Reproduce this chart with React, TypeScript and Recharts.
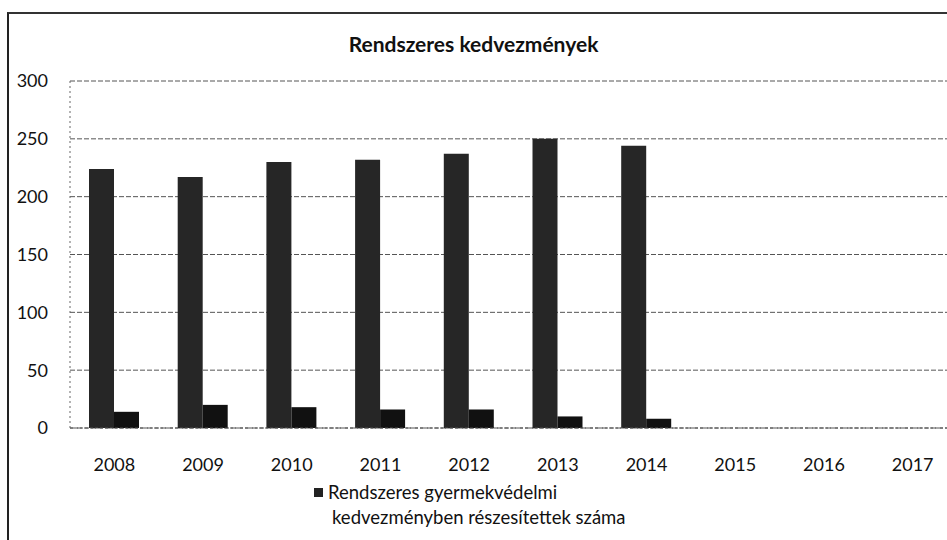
import { Bar, BarChart, CartesianGrid, XAxis, YAxis } from 'recharts';

const years = ['2008', '2009', '2010', '2011', '2012', '2013', '2014', '2015', '2016', '2017'];
const rendszeres = [224, 217, 230, 232, 237, 250, 244, null, null, null];
const kiegeszito = [14, 20, 18, 16, 16, 10, 8, null, null, null];
const yTicks = [0, 50, 100, 150, 200, 250, 300];

const data = years.map((year, i) => ({
  year,
  rendszeres: rendszeres[i],
  kiegeszito: kiegeszito[i],
}));

const font = 'Lato, "Open Sans", sans-serif';

export default function App() {
  return (
    <div
      style={{
        position: 'absolute',
        left: 0,
        top: 0,
        width: 947,
        height: 540,
        overflow: 'hidden',
        background: '#fff',
        fontFamily: font,
      }}
    >
      <div
        style={{
          position: 'absolute',
          left: 7,
          top: 12,
          width: 960,
          height: 540,
          borderTop: '2px solid #333',
          borderLeft: '2px solid #222',
        }}
      />
      <div
        style={{
          position: 'absolute',
          left: 0,
          width: 947,
          top: 31,
          textAlign: 'center',
          fontSize: 21,
          fontWeight: 700,
          color: '#111',
        }}
      >
        Rendszeres kedvezmények
      </div>
      <BarChart
        width={1000}
        height={540}
        data={data}
        margin={{ top: 81, right: 43, bottom: 82, left: 10 }}
        barGap={0}
        style={{ position: 'absolute', left: 0, top: 0 }}
      >
        <CartesianGrid vertical={false} stroke='#555' strokeDasharray='5 2' />
        <XAxis
          dataKey='year'
          tickLine={false}
          axisLine={{ stroke: '#555', strokeDasharray: '3 2' }}
          tick={{ fill: '#111', fontSize: 18, fontFamily: font }}
          dy={22}
        />
        <YAxis
          domain={[0, 300]}
          ticks={yTicks}
          width={60}
          tickLine={false}
          axisLine={{ stroke: '#666', strokeDasharray: '2 3' }}
          tick={{ fill: '#111', fontSize: 18, fontFamily: font }}
          dx={-14}
        />
        <Bar dataKey='rendszeres' fill='#262626' barSize={25} isAnimationActive={false} />
        <Bar dataKey='kiegeszito' fill='#111' barSize={25} isAnimationActive={false} />
      </BarChart>
      <div
        style={{
          position: 'absolute',
          left: 314,
          top: 480,
          fontSize: 18.5,
          color: '#111',
          lineHeight: '25px',
        }}
      >
        <span
          style={{
            display: 'inline-block',
            width: 9,
            height: 9,
            background: '#222',
            marginRight: 5,
            verticalAlign: 'middle',
            marginBottom: 3,
          }}
        />
        Rendszeres gyermekvédelmi
        <br />
        <span style={{ marginLeft: 18 }}>kedvezményben részesítettek száma</span>
      </div>
    </div>
  );
}
